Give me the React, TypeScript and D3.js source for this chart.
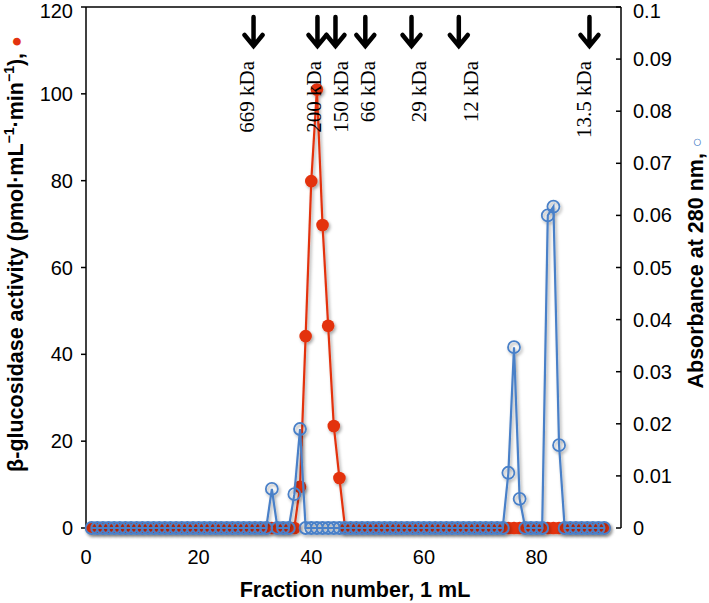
import React from "react";
import * as d3 from "d3";

// Fraction numbers (1 mL each)
const fractions = [
  1, 2, 3, 4, 5, 6, 7, 8, 9, 10, 11, 12, 13, 14, 15, 16, 17, 18, 19, 20,
  21, 22, 23, 24, 25, 26, 27, 28, 29, 30, 31, 32, 33, 34, 35, 36, 37, 38, 39, 40,
  41, 42, 43, 44, 45, 46, 47, 48, 49, 50, 51, 52, 53, 54, 55, 56, 57, 58, 59, 60,
  61, 62, 63, 64, 65, 66, 67, 68, 69, 70, 71, 72, 73, 74, 75, 76, 77, 78, 79, 80,
  81, 82, 83, 84, 85, 86, 87, 88, 89, 90, 91, 92,
];

// β-glucosidase activity (pmol·mL⁻¹·min⁻¹), left axis
const activity = [
  0, 0, 0, 0, 0, 0, 0, 0, 0, 0, 0, 0, 0, 0, 0, 0, 0, 0, 0, 0,
  0, 0, 0, 0, 0, 0, 0, 0, 0, 0, 0, 0, 0, 0, 0, 0, 0, 9.5, 44.2, 79.9,
  101, 69.8, 46.6, 23.5, 11.5, 0, 0, 0, 0, 0, 0, 0, 0, 0, 0, 0, 0, 0, 0, 0,
  0, 0, 0, 0, 0, 0, 0, 0, 0, 0, 0, 0, 0, 0, 0, 0, 0, 0, 0, 0,
  0, 0, 0, 0, 0, 0, 0, 0, 0, 0, 0, 0,
];

// Absorbance at 280 nm, right axis
const absorbance = [
  0, 0, 0, 0, 0, 0, 0, 0, 0, 0, 0, 0, 0, 0, 0, 0, 0, 0, 0, 0,
  0, 0, 0, 0, 0, 0, 0, 0, 0, 0, 0, 0, 0.0075, 0, 0, 0, 0.0065, 0.019, 0, 0,
  0, 0, 0, 0, 0, 0, 0, 0, 0, 0, 0, 0, 0, 0, 0, 0, 0, 0, 0, 0,
  0, 0, 0, 0, 0, 0, 0, 0, 0, 0, 0, 0, 0, 0, 0.0106, 0.0347, 0.0056, 0, 0, 0,
  0, 0.06, 0.0617, 0.0159, 0, 0, 0, 0, 0, 0, 0, 0,
];

// Molecular weight standards (elution fraction of arrow, label position)
const standardLabels = ["669 kDa", "200 kDa", "150 kDa", "66 kDa", "29 kDa", "12 kDa", "13.5 kDa"];
const standardArrowFractions = [29.75, 41.1, 44.3, 49.6, 57.8, 66.2, 89.4];
const standardLabelFractions = [28.5, 40.4, 45.2, 50.0, 59.1, 68.3, 88.4];

const xTicks = [0, 20, 40, 60, 80];
const leftTicks = [0, 20, 40, 60, 80, 100, 120];
const rightTicks = [0, 0.01, 0.02, 0.03, 0.04, 0.05, 0.06, 0.07, 0.08, 0.09, 0.1];

const RED = "#E3320F";
const BLUE = "#4A80C8";
const SANS = "'Liberation Sans', Arial, Helvetica, sans-serif";
const SERIF = "'Liberation Serif', 'Times New Roman', serif";

export default function App() {
  const W = 709;
  const H = 603;
  const left = 86;
  const right = 621;
  const top = 7;
  const bottom = 528;

  const x = d3.scaleLinear().domain([0, 95]).range([left, right]);
  const yL = d3.scaleLinear().domain([0, 120]).range([bottom, top]);
  const yR = d3.scaleLinear().domain([0, 0.1]).range([bottom, top]);

  const redLine = d3
    .line<number>()
    .x((_, i) => x(fractions[i]))
    .y((d) => yL(d))(activity) as string;
  const blueLine = d3
    .line<number>()
    .x((_, i) => x(fractions[i]))
    .y((d) => yR(d))(absorbance) as string;

  const tickFont = 20;
  const titleFont = 21.5;

  return (
    <svg
      width={W}
      height={H}
      style={{ position: "absolute", left: 0, top: 0, background: "#fff" }}
      fontFamily={SANS}
    >
      <defs>
        <filter id="shadow" x="-20%" y="-20%" width="140%" height="140%">
          <feDropShadow dx="1.5" dy="2" stdDeviation="1.5" floodColor="#000" floodOpacity="0.35" />
        </filter>
      </defs>
      <rect x={0} y={0} width={W} height={H} fill="#fff" />

      {/* frame */}
      <line x1={left} x2={right} y1={top} y2={top} stroke="#000" strokeWidth={1.5} />
      <line x1={left} x2={left} y1={top} y2={bottom} stroke="#000" strokeWidth={1.5} />
      <line x1={right} x2={right} y1={top} y2={bottom} stroke="#000" strokeWidth={1.5} />

      {/* left ticks */}
      {leftTicks.map((t) => (
        <g key={"l" + t}>
          <line x1={left - 5} x2={left} y1={yL(t)} y2={yL(t)} stroke="#000" strokeWidth={1.5} />
          <text x={left - 13} y={Math.max(yL(t), 11)} textAnchor="end" dominantBaseline="central" fontSize={tickFont}>
            {t}
          </text>
        </g>
      ))}

      {/* right ticks */}
      {rightTicks.map((t) => (
        <g key={"r" + t}>
          <line x1={right - 5} x2={right} y1={yR(t)} y2={yR(t)} stroke="#000" strokeWidth={1.5} />
          <text x={right + 12} y={Math.max(yR(t), 11)} textAnchor="start" dominantBaseline="central" fontSize={tickFont}>
            {d3.format("~g")(t)}
          </text>
        </g>
      ))}

      {/* x tick labels */}
      {xTicks.map((t) => (
        <text key={"x" + t} x={x(t)} y={557} textAnchor="middle" dominantBaseline="central" fontSize={tickFont}>
          {t}
        </text>
      ))}

      {/* series */}
      <g filter="url(#shadow)">
        <path d={redLine} fill="none" stroke={RED} strokeWidth={2.2} />
        {activity.map((v, i) => (
          <circle key={"rc" + i} cx={x(fractions[i])} cy={yL(v)} r={6.3} fill={RED} />
        ))}
      </g>
      <g filter="url(#shadow)">
        <path d={blueLine} fill="none" stroke={BLUE} strokeWidth={2.2} />
        {absorbance.map((v, i) => (
          <circle
            key={"bc" + i}
            cx={x(fractions[i])}
            cy={yR(v)}
            r={6}
            fill="none"
            stroke={BLUE}
            strokeWidth={1.8}
          />
        ))}
      </g>

      {/* molecular weight standards */}
      {standardLabels.map((lab, i) => {
        const ax = x(standardArrowFractions[i]);
        const lx = x(standardLabelFractions[i]);
        return (
          <g key={"s" + i}>
            <path
              d={`M${ax},17 L${ax},46 M${ax - 9},35 L${ax},46 L${ax + 9},35`}
              fill="none"
              stroke="#000"
              strokeWidth={4.5}
              strokeLinecap="round"
              strokeLinejoin="miter"
            />
            <text
              transform={`translate(${lx},61) rotate(-90)`}
              textAnchor="end"
              dominantBaseline="central"
              fontFamily={SERIF}
              fontSize={21}
            >
              {lab}
            </text>
          </g>
        );
      })}

      {/* axis titles */}
      <text x={355} y={590} textAnchor="middle" dominantBaseline="central" fontSize={titleFont} fontWeight="bold">
        Fraction number, 1 mL
      </text>
      <text
        transform={`translate(16,254) rotate(-90)`}
        textAnchor="middle"
        dominantBaseline="central"
        fontSize={titleFont}
        fontWeight="bold"
      >
        β-glucosidase activity (pmol·mL
        <tspan fontSize={14} dy={-7}>−1</tspan>
        <tspan dy={7}>·min</tspan>
        <tspan fontSize={14} dy={-7}>−1</tspan>
        <tspan dy={7}>), </tspan>
        <tspan fill={RED} fontSize={18}>●</tspan>
      </text>
      <text
        transform={`translate(696,263) rotate(-90)`}
        textAnchor="middle"
        dominantBaseline="central"
        fontSize={titleFont}
        fontWeight="bold"
      >
        Absorbance at 280 nm,{" "}
        <tspan fill={BLUE} fontSize={16} fontWeight="normal">○</tspan>
      </text>
    </svg>
  );
}
